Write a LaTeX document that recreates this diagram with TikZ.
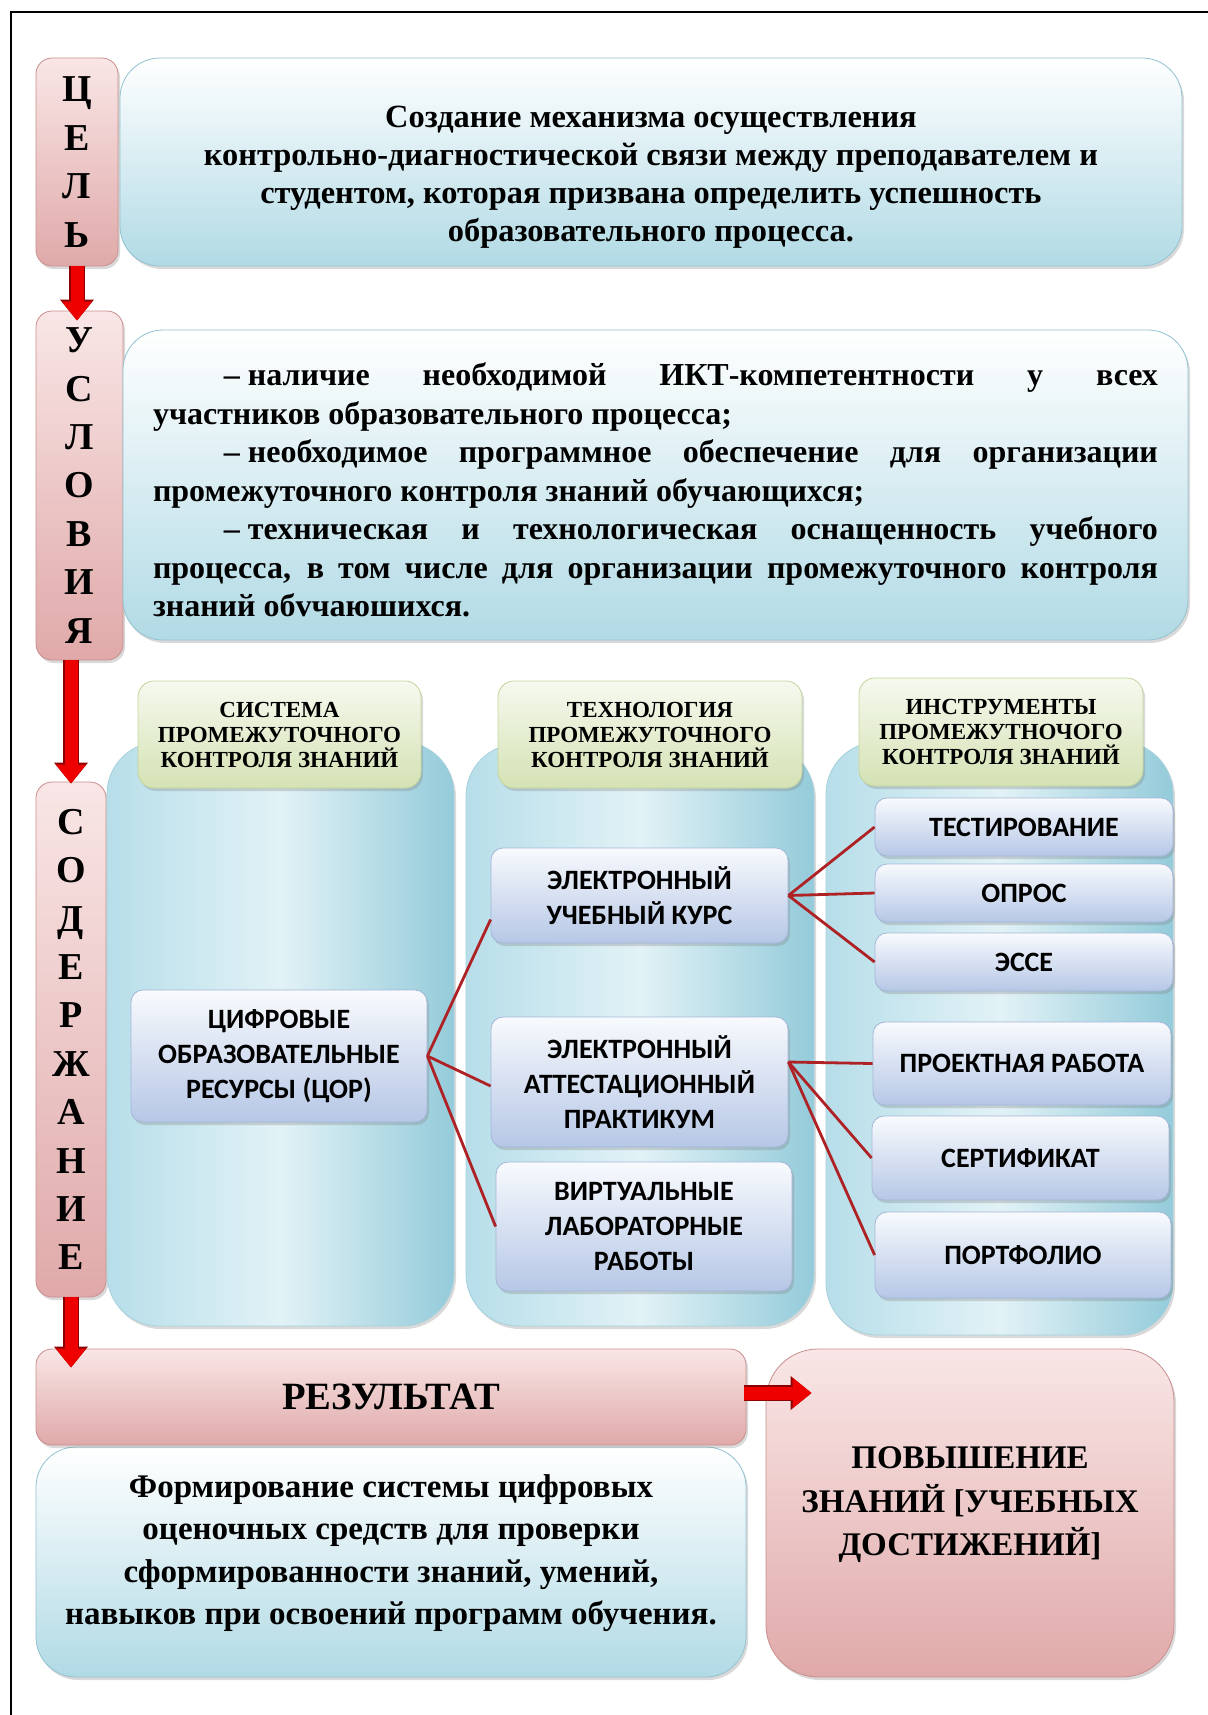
\documentclass[tikz,border=0pt]{standalone}
\usepackage{fontspec}
\setmainfont{Liberation Serif}
\newfontfamily\calfont{Carlito}
\usetikzlibrary{arrows.meta,shadows,calc}
\definecolor{pinktop}{HTML}{F9E6E6}
\definecolor{pinkbot}{HTML}{E0A9A9}
\definecolor{pinkline}{HTML}{C98E8E}
\definecolor{bluebot}{HTML}{B1DAE5}
\definecolor{blueline}{HTML}{92C2D0}
\definecolor{panelleft}{HTML}{B7DEE9}
\definecolor{panelmid}{HTML}{E2F2F6}
\definecolor{panelright}{HTML}{94CBDA}
\definecolor{panelline}{HTML}{A6D1DD}
\definecolor{headtop}{HTML}{F6F9EF}
\definecolor{headbot}{HTML}{D4E2B4}
\definecolor{headline}{HTML}{C2D59A}
\definecolor{itemtop}{HTML}{F8FAFD}
\definecolor{itembot}{HTML}{B6C7E6}
\definecolor{itemline}{HTML}{A3B6D8}
\definecolor{linkred}{HTML}{AE2226}
\definecolor{arrowred}{HTML}{EE0000}
\definecolor{arrowdark}{HTML}{8B0000}
\begin{document}
\begin{tikzpicture}[x=0.5pt, y=-0.5pt,
  boxshadow/.style={drop shadow={opacity=0.3, shadow xshift=1pt, shadow yshift=-1.5pt}},
  pinkbox/.style={boxshadow, draw=pinkline, top color=pinktop, bottom color=pinkbot, rounded corners=8pt, inner sep=0pt},
  bluebox/.style={boxshadow, draw=blueline, top color=white, bottom color=bluebot, rounded corners=20pt, inner sep=0pt},
  panel/.style={boxshadow, draw=panelline, left color=panelleft, right color=panelright, middle color=panelmid, rounded corners=26pt},
  headbox/.style={boxshadow, draw=headline, top color=headtop, bottom color=headbot, rounded corners=8pt, align=center, inner sep=0pt, font=\fontsize{11.5}{12.5}\selectfont\bfseries},
  itembox/.style={boxshadow, draw=itemline, top color=itemtop, bottom color=itembot, rounded corners=6pt, align=center, inner sep=0pt, font=\calfont\fontsize{14}{17.5}\selectfont\bfseries},
  letters/.style={align=center, font=\fontsize{19}{24.2}\selectfont\bfseries},
  bigtext/.style={align=center, font=\fontsize{16.2}{19}\selectfont\bfseries},
  link/.style={draw=linkred, line width=1.4pt},
  bigarrow/.style={draw=arrowred, line width=6.5pt, -{Triangle[width=14.5pt,length=9.5pt]}, preaction={draw=arrowdark, line width=7.6pt, -{Triangle[width=16.3pt,length=10.5pt]}}}]
\useasboundingbox (0,0) rectangle (1208,1715);
\draw[line width=1pt] (11,1715) -- (11,12) -- (1208,12);

\node[pinkbox, letters, minimum width=41pt, minimum height=104pt] (goal) at (77,162) {Ц\\Е\\Л\\Ь};
\node[bluebox, minimum width=531pt, minimum height=104pt] (aim) at (651,162) {};
\node[bigtext] (aimtext) at ($(aim.center)+(0,15)$)
  {Создание механизма осуществления\\контрольно-диагностической связи между преподавателем и\\студентом, которая призвана определить успешность\\образовательного процесса.};

\node[pinkbox, letters, minimum width=43.5pt, minimum height=174.5pt] (cond) at (79.5,485.5) {У\\С\\Л\\О\\В\\И\\Я};
\node[bluebox, minimum width=532.5pt, minimum height=155pt] (needs) at (655.5,485) {};
\node[text width=502.5pt, inner sep=0pt, align=justify, font=\fontsize{16}{19.25}\selectfont\bfseries\sloppy] (needstext) at ($(needs.center)+(0,5)$)
  {\hspace*{35.5pt}–\hspace{4pt}наличие необходимой ИКТ-компетентности у всех\linebreak участников образовательного процесса;\par
   \hspace*{35.5pt}–\hspace{4pt}необходимое программное обеспечение для организации\linebreak промежуточного контроля знаний обучающихся;\par
   \hspace*{35.5pt}–\hspace{4pt}техническая и технологическая оснащенность учебного\linebreak процесса, в том числе для организации промежуточного контроля\linebreak знаний обvчаюшихся.\par};

\node[pinkbox, letters, minimum width=35pt, minimum height=257.5pt] (content) at (71,1039.5) {С\\О\\Д\\Е\\Р\\Ж\\А\\Н\\И\\Е};

\node[panel, minimum width=173.5pt, minimum height=292pt] (sys) at (280.5,1034) {};
\node[panel, minimum width=174pt, minimum height=291pt] (tech) at (640,1035) {};
\node[panel, minimum width=173.5pt, minimum height=296.5pt] (tools) at (999.5,1038.5) {};

\node[headbox, minimum width=141.5pt, minimum height=53.5pt] (syshead) at (279.5,734.5) {СИСТЕМА\\ПРОМЕЖУТОЧНОГО\\КОНТРОЛЯ ЗНАНИЙ};
\node[headbox, minimum width=152pt, minimum height=53.5pt] (techhead) at (650,734.5) {ТЕХНОЛОГИЯ\\ПРОМЕЖУТОЧНОГО\\КОНТРОЛЯ ЗНАНИЙ};
\node[headbox, minimum width=142pt, minimum height=54pt] (toolshead) at (1001,732) {ИНСТРУМЕНТЫ\\ПРОМЕЖУТНОЧОГО\\КОНТРОЛЯ ЗНАНИЙ};

\node[itembox, minimum width=148pt, minimum height=66pt] (cor) at (279,1056) {ЦИФРОВЫЕ\\ОБРАЗОВАТЕЛЬНЫЕ\\РЕСУРСЫ (ЦОР)};
\node[itembox, minimum width=148.5pt, minimum height=47.5pt] (euk) at (639.5,895.5) {ЭЛЕКТРОННЫЙ\\УЧЕБНЫЙ КУРС};
\node[itembox, minimum width=148.5pt, minimum height=65pt] (eap) at (639.5,1082) {ЭЛЕКТРОННЫЙ\\АТТЕСТАЦИОННЫЙ\\ПРАКТИКУМ};
\node[itembox, minimum width=148pt, minimum height=64.5pt] (vlr) at (644,1226.5) {ВИРТУАЛЬНЫЕ\\ЛАБОРАТОРНЫЕ\\РАБОТЫ};

\node[itembox, minimum width=149pt, minimum height=29pt] (test) at (1024,827) {ТЕСТИРОВАНИЕ};
\node[itembox, minimum width=149pt, minimum height=29pt] (opros) at (1024,893) {ОПРОС};
\node[itembox, minimum width=149pt, minimum height=29pt] (esse) at (1024,962) {ЭССЕ};
\node[itembox, minimum width=149pt, minimum height=41.5pt] (proj) at (1022,1063.5) {ПРОЕКТНАЯ РАБОТА};
\node[itembox, minimum width=148.5pt, minimum height=42pt] (cert) at (1020.5,1158) {СЕРТИФИКАТ};
\node[itembox, minimum width=148pt, minimum height=43pt] (port) at (1023,1255) {ПОРТФОЛИО};

\coordinate (eapout) at ($(eap.east)+(0,-20)$);
\draw[link] (cor.east) -- ($(euk.west)+(0,24)$);
\draw[link] (cor.east) -- ($(eap.west)+(0,4)$);
\draw[link] (cor.east) -- (vlr.west);
\foreach \tool in {test,opros,esse}
  \draw[link] (euk.east) -- (\tool.west);
\foreach \tool in {proj,cert,port}
  \draw[link] (eapout) -- (\tool.west);

\node[pinkbox, minimum width=204pt, minimum height=164pt, rounded corners=26pt] (gain) at (970,1513) {};
\node[align=center, font=\fontsize{16.5}{21.75}\selectfont\bfseries] (gaintext) at ($(gain.center)+(0,-8)$)
  {ПОВЫШЕНИЕ\\ЗНАНИЙ [УЧЕБНЫХ\\ДОСТИЖЕНИЙ]};
\node[bluebox, minimum width=355pt, minimum height=115pt] (outcome) at (391,1562) {};
\node[align=center, font=\fontsize{16.5}{21.3}\selectfont\bfseries] (outcometext) at ($(outcome.center)+(0,-9)$)
  {Формирование системы цифровых\\оценочных средств для проверки\\сформированности знаний, умений,\\навыков при освоений программ обучения.};
\node[pinkbox, minimum width=355pt, minimum height=48pt, font=\fontsize{19.3}{22}\selectfont\bfseries] (result) at (391,1397) {РЕЗУЛЬТАТ};

\draw[bigarrow] (goal.south) -- ($(goal.south |- cond.north)+(0,10)$);
\draw[bigarrow] (cond.south -| content.north) -- ($(content.north)+(0,2)$);
\draw[bigarrow] (content.south) -- ($(content.south |- result.north)+(0,19)$);
\draw[bigarrow] ($(result.east)+(-2,-4)$) -- ($(result.east -| gain.west)+(46,-4)$);
\end{tikzpicture}
\end{document}
